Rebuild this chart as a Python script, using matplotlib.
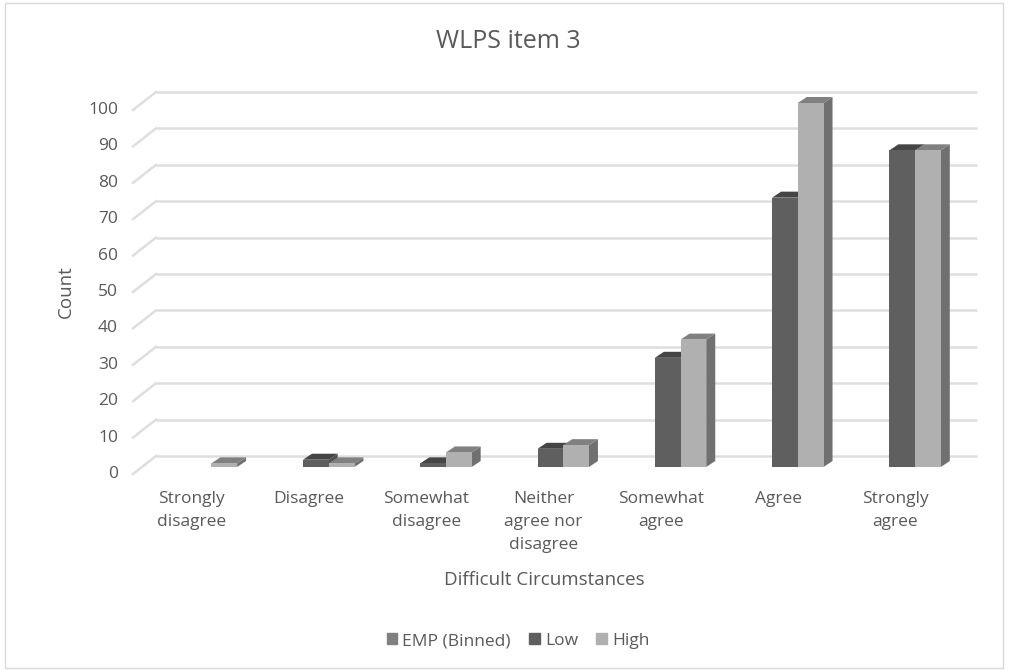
import matplotlib
matplotlib.use("Agg")
import matplotlib.pyplot as plt
from matplotlib.patches import Polygon, Rectangle, Patch

plt.rcParams["font.family"] = ["Open Sans", "DejaVu Sans"]

# -----------------------------
# DATA
# -----------------------------
categories = ["Strongly\ndisagree", "Disagree", "Somewhat\ndisagree",
              "Neither\nagree nor\ndisagree", "Somewhat\nagree", "Agree",
              "Strongly\nagree"]
low = [0, 2, 1, 5, 30, 74, 87]
high = [1, 1, 4, 6, 35, 100, 87]
y_ticks = [0, 10, 20, 30, 40, 50, 60, 70, 80, 90, 100]

# colours: front, top, side
low_cols = ("#5f5f5f", "#454545", "#505050")
high_cols = ("#b0b0b0", "#808080", "#707070")
emp_col = "#808080"
text_col = "#595959"
grid_col = "#dedede"

W, H = 1011, 670
fig = plt.figure(figsize=(W / 100, H / 100), dpi=100)

# outer chart frame
fig.add_artist(Rectangle((5 / W, 1 - 668 / H), 998 / W, 665 / H, transform=fig.transFigure,
                         fill=False, ec="#d9d9d9", lw=1))

# axes = plane of the bar fronts, in pixels of the figure
left, right, top, bottom = 142, 963, 103, 467
ax = fig.add_axes([left / W, 1 - bottom / H, (right - left) / W, (bottom - top) / H])
ax.set_xlim(0, 7)
ax.set_ylim(0, 100)
ax.axis("off")

px = 7 / (right - left)    # one pixel in x data
py = 100 / (bottom - top)  # one pixel in y data


def box(x0, x1, val, cols):
    # fake 3D column
    dx, dy = 9 * px, 6 * py
    if val == 0:
        return
    ax.add_patch(Polygon([(x1, 0), (x1 + dx, dy), (x1 + dx, val + dy), (x1, val)],
                         fc=cols[2], ec="none", clip_on=False, zorder=3))
    ax.add_patch(Polygon([(x0, val), (x0 + dx, val + dy), (x1 + dx, val + dy), (x1, val)],
                         fc=cols[1], ec="none", clip_on=False, zorder=3))
    ax.add_patch(Rectangle((x0, 0), x1 - x0, val, fc=cols[0], ec="none",
                           clip_on=False, zorder=3))


# gridlines: wall plus slanted bit on the left
for v in y_ticks:
    ax.plot([14 * px, 835 * px], [v + 11 * py, v + 11 * py], color=grid_col, lw=1.8,
            clip_on=False, zorder=1, solid_capstyle="butt")
    ax.plot([-9 * px, 14 * px], [v - 7 * py, v + 11 * py], color=grid_col, lw=1.8,
            clip_on=False, zorder=1)
    ax.text(-24 * px, v - 7 * py, str(v), ha="right", va="center", fontsize=12.5, color=text_col)

bar_w = 25.7 * px
offset = 18 * px
for i in range(len(categories)):
    x_low = i + offset + bar_w
    box(x_low, x_low + bar_w, low[i], low_cols)
    box(x_low + bar_w, x_low + 2 * bar_w, high[i], high_cols)
    ax.text(i + 0.5 - 9 * px, -7 * py - 17 * py, categories[i], ha="center", va="top",
            fontsize=12.5, color=text_col, linespacing=1.6)

fig.text(508 / W, 1 - 41 / H, "WLPS item 3", ha="center", va="center", fontsize=18, color=text_col)
fig.text(66 / W, 1 - 292 / H, "Count", ha="center", va="center", rotation=90, fontsize=13.5, color=text_col)
fig.text(544 / W, 1 - 580 / H, "Difficult Circumstances", ha="center", va="center",
         fontsize=13.5, color=text_col)

handles = [Patch(color=emp_col, label="EMP (Binned)"),
           Patch(color=low_cols[0], label="Low"),
           Patch(color=high_cols[0], label="High")]
fig.legend(handles=handles, loc="center", bbox_to_anchor=(518 / W, 1 - 641 / H), ncol=3,
           frameon=False, fontsize=12.5, labelcolor=text_col, handlelength=0.6, handleheight=0.6,
           handletextpad=0.3, columnspacing=1.05)

plt.savefig("out.png", dpi=100)
plt.close()
